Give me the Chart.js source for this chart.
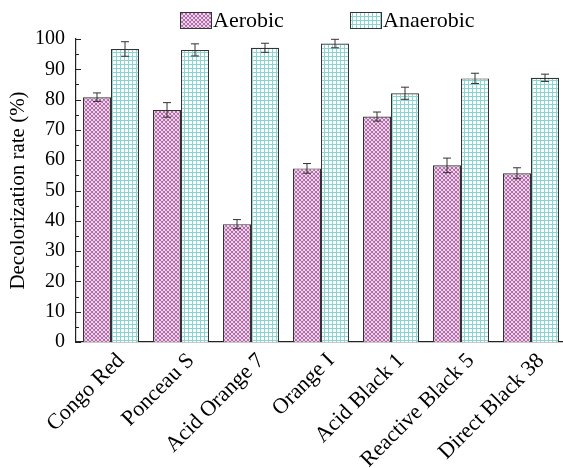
<!DOCTYPE html>
<html>
<head>
<meta charset="utf-8">
<script src="https://cdn.jsdelivr.net/npm/chart.js@4.4.1/dist/chart.umd.min.js"></script>
<style>
  html, body { margin: 0; padding: 0; background: #fff; overflow: hidden; }
  #wrap { width: 570px; height: 468px; }
</style>
</head>
<body>
<div id="wrap"><canvas id="myChart"></canvas></div>
<script>
// data
var dyes = ['Congo Red', 'Ponceau S', 'Acid Orange 7', 'Orange I', 'Acid Black 1', 'Reactive Black 5', 'Direct Black 38']
var aerobic = [80.8, 76.6, 38.9, 57.3, 74.4, 58.3, 55.7]
var aerobicErr = [1.4, 2.4, 1.5, 1.6, 1.5, 2.4, 1.8]
var anaerobic = [96.7, 96.4, 97.1, 98.5, 82.1, 87.0, 87.2]
var anaerobicErr = [2.4, 2.0, 1.5, 1.4, 2.0, 1.7, 1.2]
var yTicks = [0, 10, 20, 30, 40, 50, 60, 70, 80, 90, 100]

var serif = '"Liberation Serif", "Times New Roman", serif'

function hatchPattern() {
    var c = document.createElement('canvas')
    c.width = 4; c.height = 4
    var g = c.getContext('2d')
    g.fillStyle = '#fff'
    g.fillRect(0, 0, 4, 4)
    g.strokeStyle = '#b264a8'
    g.lineWidth = 1.1
    g.beginPath()
    g.moveTo(-1, -1); g.lineTo(5, 5)
    g.moveTo(-1, 5); g.lineTo(5, -1)
    g.moveTo(-1, 3); g.lineTo(1, 5)
    g.moveTo(3, -1); g.lineTo(5, 1)
    g.moveTo(-1, 1); g.lineTo(1, -1)
    g.moveTo(3, 5); g.lineTo(5, 3)
    g.stroke()
    return g.createPattern(c, 'repeat')
}
function gridPattern() {
    var c = document.createElement('canvas')
    c.width = 4; c.height = 4
    var g = c.getContext('2d')
    g.fillStyle = '#fff'
    g.fillRect(0, 0, 4, 4)
    g.fillStyle = '#8ad4d4'
    g.fillRect(0, 0, 1, 4)
    g.fillRect(0, 0, 4, 1)
    return g.createPattern(c, 'repeat')
}
var pinkFill = hatchPattern()
var tealFill = gridPattern()

// error bars + axis ticks + legend
var extras = {
    id: 'extras',
    afterDatasetsDraw: function(chart) {
        var ctx = chart.ctx
        var y = chart.scales.y
        var errs = [aerobicErr, anaerobicErr]
        ctx.save()
        ctx.strokeStyle = '#333'
        ctx.lineWidth = 1
        chart.data.datasets.forEach(function(ds, di) {
            chart.getDatasetMeta(di).data.forEach(function(bar, i) {
                var v = ds.data[i], e = errs[di][i]
                var top = y.getPixelForValue(v + e), bot = y.getPixelForValue(v - e)
                ctx.beginPath()
                ctx.moveTo(bar.x, top); ctx.lineTo(bar.x, bot)
                ctx.moveTo(bar.x - 4, top); ctx.lineTo(bar.x + 4, top)
                ctx.moveTo(bar.x - 4, bot); ctx.lineTo(bar.x + 4, bot)
                ctx.stroke()
            })
        })
        // inward ticks on y axis
        var left = chart.chartArea.left
        ctx.strokeStyle = '#222'
        for (var t = 0; t <= 100; t += 5) {
            var py = Math.round(y.getPixelForValue(t)) + 0.5
            ctx.beginPath()
            ctx.moveTo(left, py)
            ctx.lineTo(left + (t % 10 == 0 ? 5 : 3), py)
            ctx.stroke()
        }
        ctx.restore()
    },
    afterDraw: function(chart) {
        var ctx = chart.ctx
        var items = [
            { x: 180, label: 'Aerobic', fill: pinkFill },
            { x: 350, label: 'Anaerobic', fill: tealFill }
        ]
        ctx.save()
        items.forEach(function(it) {
            ctx.fillStyle = it.fill
            ctx.fillRect(it.x, 12, 31, 16)
            ctx.strokeStyle = '#333'
            ctx.lineWidth = 1
            ctx.strokeRect(it.x + 0.5, 12.5, 31, 16)
            ctx.fillStyle = '#000'
            ctx.font = '22px ' + serif
            ctx.textBaseline = 'middle'
            ctx.textAlign = 'left'
            ctx.fillText(it.label, it.x + 33, 21)
        })
        ctx.restore()
    }
}

var myChart = new Chart(document.getElementById('myChart').getContext('2d'), {
    type: 'bar',
    data: {
        labels: dyes,
        datasets: [{
            label: 'Aerobic',
            data: aerobic,
            backgroundColor: pinkFill,
            borderColor: '#333',
            borderWidth: 1.2,
            borderSkipped: 'bottom',
            categoryPercentage: 0.8,
            barPercentage: 1.0
        }, {
            label: 'Anaerobic',
            data: anaerobic,
            backgroundColor: tealFill,
            borderColor: '#333',
            borderWidth: 1.2,
            borderSkipped: 'bottom',
            categoryPercentage: 0.8,
            barPercentage: 1.0
        }]
    },
    options: {
        responsive: true,
        maintainAspectRatio: false,
        animation: false,
        devicePixelRatio: 1,
        layout: { padding: { top: 39, right: 4, left: 0, bottom: 0 } },
        plugins: {
            legend: { display: false },
            tooltip: { enabled: false }
        },
        scales: {
            x: {
                grid: { display: false, drawTicks: false },
                border: { display: true, color: '#222', width: 1.2 },
                ticks: {
                    color: '#000',
                    font: { family: serif, size: 22 },
                    minRotation: 45,
                    maxRotation: 45,
                    padding: 6,
                    labelOffset: 10,
                    autoSkip: false
                },
                afterFit: function(s) { s.height = 126 }
            },
            y: {
                min: 0,
                max: 100,
                afterBuildTicks: function(s) { s.ticks = yTicks.map(function(v) { return { value: v } }) },
                grid: { display: false, drawTicks: false },
                border: { display: true, color: '#222', width: 1.2 },
                ticks: {
                    color: '#000',
                    font: { family: serif, size: 20 },
                    padding: 11
                },
                title: {
                    display: true,
                    text: 'Decolorization rate (%)',
                    color: '#000',
                    font: { family: serif, size: 21 },
                    padding: { top: 6, bottom: 0 }
                },
                afterFit: function(s) { s.width = 76 }
            }
        }
    },
    plugins: [extras]
})
</script>
</body>
</html>
